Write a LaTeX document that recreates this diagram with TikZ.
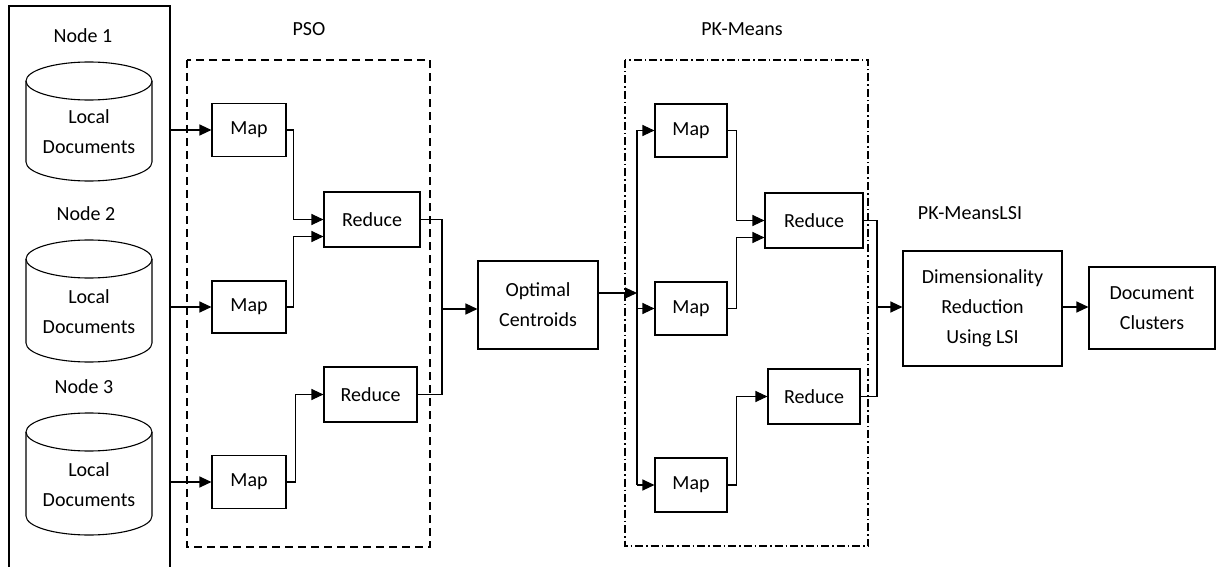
\documentclass[tikz,border=0pt]{standalone}
\usepackage{fontspec}
\setmainfont{Carlito}
\usepackage{tikz}
\usetikzlibrary{calc,positioning,shapes.geometric,arrows.meta}

\tikzset{
  blk/.style={draw,line width=1.1pt,align=center,inner sep=0pt},
  flow/.style={line width=1.1pt,-{Triangle[length=12pt,width=11pt]}},
  wire/.style={line width=1.1pt},
}

\begin{document}
\begin{tikzpicture}[x=1pt,y=-1pt,font=\fontsize{20}{30}\selectfont]
\path[use as bounding box,clip] (0,0) rectangle (1216,567);

% hosts with their local documents
\node[draw,line width=1.2pt,minimum width=161pt,minimum height=600pt] (host) at (89.5,306) {};
\node (n1) at (83,36) {Node 1};
\node (n2) at (86,214) {Node 2};
\node (n3) at (84,387) {Node 3};
% cylinders: top ellipse centre / bottom ellipse centre
\foreach \i/\t/\b in {1/81/162,2/259/343,3/432/516}{
  \coordinate (db\i) at (89,\t);
  \draw[line width=1.1pt] (26,\t) -- (26,\b)
    arc[start angle=180,end angle=360,x radius=63pt,y radius=19pt] -- (152,\t);
  \draw[line width=1.1pt] (db\i) ellipse[x radius=63pt,y radius=19pt];
}
\node[align=center] (t1) at (89,132) {Local\\Documents};
\node[align=center] (t2) at (89,312) {Local\\Documents};
\node[align=center] (t3) at (89,484.5) {Local\\Documents};

% PSO stage
\draw[line width=1.3pt,dash pattern=on 8pt off 5pt] (187,60) rectangle (430,547);
\node (pso) at (309,29) {PSO};
\node[blk,minimum width=74pt,minimum height=53pt] (map1) at (249,130) {Map};
\node[blk,minimum width=74pt,minimum height=52pt] (map2) at (249,307) {Map};
\node[blk,minimum width=74pt,minimum height=53pt] (map3) at (249,482) {Map};
\node[blk,minimum width=96pt,minimum height=55pt] (red1) at (372,219.5) {Reduce};
\node[blk,minimum width=93pt,minimum height=55pt] (red2) at (370.5,394.5) {Reduce};

\foreach \m in {map1,map2,map3}
  \draw[flow] (host.east |- \m) -- (\m);
\draw[flow] (map1.east) -- ++(7,0) |- (red1.west);
\draw[flow] (map2.east) -- ++(7,0) |- ([yshift=-17pt]red1.west);
\draw[flow] (map3.east) -- ++(9,0) |- (red2.west);

\node[blk,minimum width=120pt,minimum height=88pt] (opt) at (538,305) {Optimal\\Centroids};
\coordinate (psoout) at (442,309);
\draw[wire] (red1.east) -| (psoout);
\draw[wire] (red2.east) -| (psoout);
\draw[flow,line width=1.5pt] (psoout) -- (opt.west |- psoout);

% PK-Means stage
\draw[line width=1.3pt,dash pattern=on 8pt off 3pt on 1.5pt off 3pt] (625,60) rectangle (868,546);
\node (pkm) at (742,29) {PK-Means};
\node[blk,minimum width=72pt,minimum height=53pt] (kmap1) at (691,130.5) {Map};
\node[blk,minimum width=72pt,minimum height=53pt] (kmap2) at (691,308.5) {Map};
\node[blk,minimum width=72pt,minimum height=54pt] (kmap3) at (691,485) {Map};
\node[blk,minimum width=98pt,minimum height=55pt] (kred1) at (814,220.5) {Reduce};
\node[blk,minimum width=92pt,minimum height=55pt] (kred2) at (814,396.5) {Reduce};

\coordinate (bus) at (637,293);
\draw[flow] (opt.east |- bus) -- (bus);
\draw[wire] (bus |- kmap1) -- (bus |- kmap3);
\foreach \m in {kmap1,kmap2,kmap3}
  \draw[flow] (bus |- \m) -- (\m);
\draw[flow] (kmap1.east) -- ++(9,0) |- (kred1.west);
\draw[flow] (kmap2.east) -- ++(9,0) |- ([yshift=-17pt]kred1.west);
\draw[flow] (kmap3.east) -- ++(9,0) |- (kred2.west);

% LSI stage
\node (lsi) at (970,213) {PK-MeansLSI};
\node[blk,minimum width=159pt,minimum height=115pt] (dim) at (982.5,308.5) {Dimensionality\\Reduction\\Using LSI};
\node[blk,minimum width=126pt,minimum height=82pt] (clus) at (1152,308) {Document\\Clusters};
\coordinate (kout) at (877,307);
\draw[wire] (kred1.east) -| (kout);
\draw[wire] (kred2.east) -| (kout);
\draw[flow] (kout) -- (dim.west |- kout);
\draw[flow] (dim.east |- kout) -- (clus.west |- kout);
\end{tikzpicture}
\end{document}
